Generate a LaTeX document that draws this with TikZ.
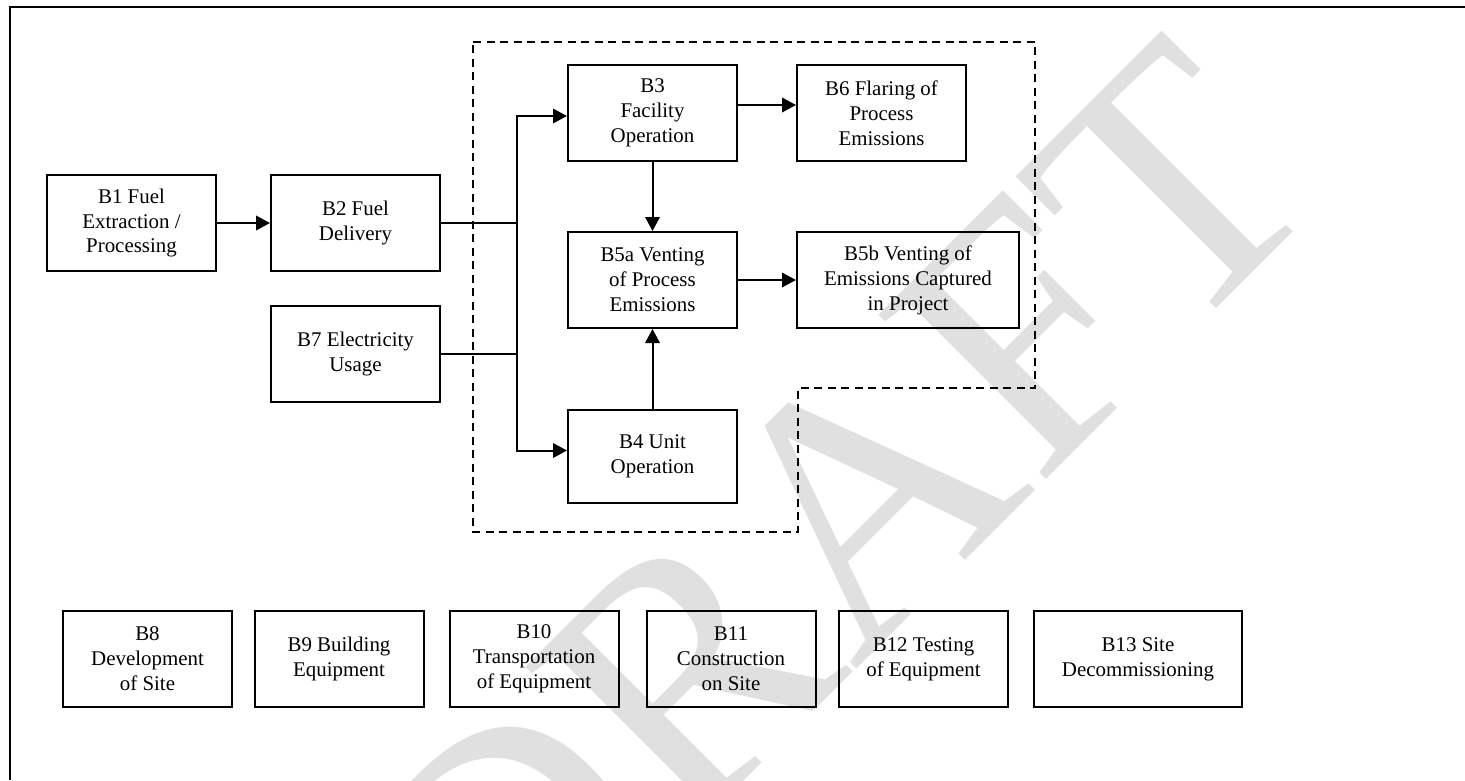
\documentclass[tikz,border=0pt]{standalone}
\usepackage{fontspec}
\setmainfont{Liberation Serif}
\usetikzlibrary{arrows.meta}

\begin{document}
\begin{tikzpicture}[x=0.2mm,y=-0.2mm,
    blk/.style={draw,line width=0.4mm,align=center,inner sep=0pt,
      minimum width=33.8mm,minimum height=19.2mm,
      font=\fontsize{11.9}{14.2}\selectfont},
    flow/.style={line width=0.4mm,-{Triangle[length=2.8mm,width=2.9mm]}},
    bound/.style={line width=0.4mm,dash pattern=on 1.6mm off 1.1mm}]
  \useasboundingbox (0,0) rectangle (1465,780);
  % watermark
  \node[rotate=45,inner sep=0pt,text=black!12,
        font=\fontsize{204}{204}\selectfont] (wm) at (834,525) {DRAFT};
  \draw[line width=0.55mm] (10,780) -- (10,7) -- (1465,7);
  \draw[bound] (473,42) -- (1035,42) -- (1035,388) -- (798,388)
               -- (798,532) -- (473,532) -- cycle;

  \node[blk] (b1)  at (131.5,223) {B1 Fuel\\Extraction /\\Processing};
  \node[blk] (b2)  at (355.5,223) {B2 Fuel\\Delivery};
  \node[blk] (b7)  at (355.5,354) {B7 Electricity\\Usage};
  \node[blk] (b3)  at (652.5,113) {B3\\Facility\\Operation};
  \node[blk] (b6)  at (881.5,113) {B6 Flaring of\\Process\\Emissions};
  \node[blk] (b5a) at (652.5,280) {B5a Venting\\of Process\\Emissions};
  \node[blk,minimum width=44.4mm] (b5b) at (908,280)
    {B5b Venting of\\Emissions Captured\\in Project};
  \node[blk,minimum height=18.6mm] (b4) at (652.5,456.5) {B4 Unit\\Operation};

  \node[blk] (b8)  at (147.5,659) {B8\\Development\\of Site};
  \node[blk] (b9)  at (339,659)   {B9 Building\\Equipment};
  \node[blk] (b10) at (534,659)   {B10\\Transportation\\of Equipment};
  \node[blk] (b11) at (731,659)   {B11\\Construction\\on Site};
  \node[blk] (b12) at (923.5,659) {B12 Testing\\of Equipment};
  \node[blk,minimum width=41.6mm] (b13) at (1138,659) {B13 Site\\Decommissioning};

  \coordinate (bus) at (517,223);
  \draw[flow] (b1) -- (b2);
  \draw[line width=0.4mm] (b2.east) -- (bus);
  \draw[line width=0.4mm] (b7.east) -- (bus |- b7.east);
  \draw[flow] (bus) |- ([yshift=-0.6mm]b3.west);
  \draw[flow] (bus) |- ([yshift=1.2mm]b4.west);
  \draw[flow] ([yshift=1.6mm]b3.east) -- ([yshift=1.6mm]b6.west);
  \draw[flow] (b3) -- (b5a);
  \draw[flow] (b5a) -- (b5b);
  \draw[flow] (b4) -- (b5a);
\end{tikzpicture}
\end{document}
